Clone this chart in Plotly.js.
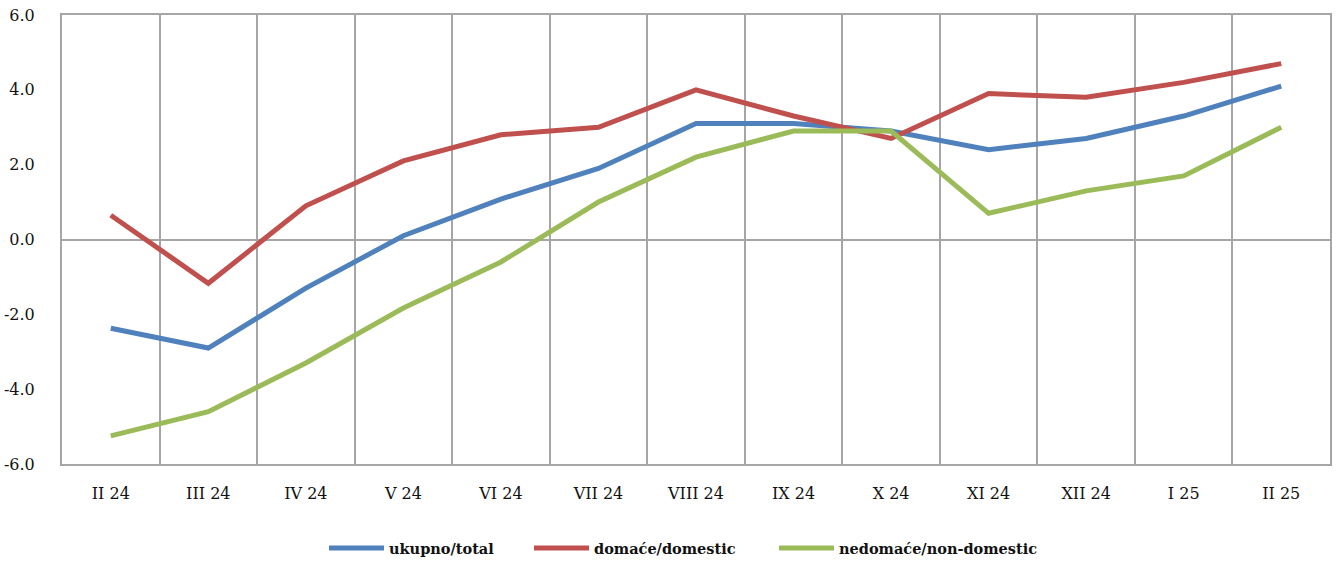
<!DOCTYPE html>
<html>
<head>
<meta charset="utf-8">
<script src="https://cdn.plot.ly/plotly-3.0.1.min.js"></script>
<style>html,body{margin:0;padding:0;background:#fff;}#chart{width:1337px;height:565px;}</style>
</head>
<body>
<div id="chart"></div>
<script>
const categories = ["II 24","III 24","IV 24","V 24","VI 24","VII 24","VIII 24","IX 24","X 24","XI 24","XII 24","I 25","II 25"];
const total = [-2.37,-2.9,-1.3,0.1,1.08,1.9,3.1,3.1,2.9,2.4,2.7,3.3,4.1];
const domestic = [0.65,-1.17,0.9,2.1,2.8,3.0,4.0,3.3,2.7,3.9,3.8,4.2,4.7];
const nonDomestic = [-5.25,-4.6,-3.3,-1.83,-0.6,1.0,2.2,2.9,2.9,0.7,1.3,1.7,3.0];
const names = ["ukupno/total","domaće/domestic","nedomaće/non-domestic"];
const colors = ["#4f81bd","#c0504d","#9bbb59"];
const yTicks = [-6,-4,-2,0,2,4,6];

const FONT = "DejaVu Serif, serif";
const legendIds = ["legend","legend2","legend3"];
const legendLeft = [324, 529, 774];
const series = [total, domestic, nonDomestic];
const data = series.map((s,i)=>({
  x: categories, y: s, type: "scatter", mode: "lines", name: names[i],
  legend: legendIds[i],
  line: {color: colors[i], width: 5}
}));
const layout = {
  width: 1337, height: 565,
  margin: {l: 62, r: 7, t: 15, b: 101},
  paper_bgcolor: "#fff", plot_bgcolor: "#fff",
  font: {family: FONT, size: 16, color: "#111"},
  showlegend: true,
  xaxis: {type: "category", tickson: "boundaries", showgrid: true, gridcolor: "#a6a6a6", gridwidth: 2,
          showline: true, mirror: true, linecolor: "#a6a6a6", linewidth: 2, ticks: "", ticklen: 0,
          ticklabelstandoff: 14, tickfont: {family: FONT, size: 16, color: "#111"},
          zeroline: false, fixedrange: true, range: [-0.5, 12.5]},
  yaxis: {range: [-6, 6], tickvals: yTicks, ticktext: yTicks.map(v=>v.toFixed(1)), showgrid: false,
          zeroline: true, zerolinecolor: "#a6a6a6", zerolinewidth: 2,
          ticklabelstandoff: 22, tickfont: {family: FONT, size: 16, color: "#111"},
          showline: true, mirror: true, linecolor: "#a6a6a6", linewidth: 2, ticks: "", ticklen: 0},
};
legendIds.forEach((id,i)=>{
  layout[id] = {orientation: "h", x: legendLeft[i]/1337, xanchor: "left", xref: "container",
    y: 1 - 548/565, yanchor: "middle", yref: "container",
    font: {family: FONT, size: 14.5, color: "#111", weight: "bold"},
    itemwidth: 55, bgcolor: "rgba(0,0,0,0)"};
});
Plotly.newPlot("chart", data, layout, {displayModeBar: false, staticPlot: true});
</script>
</body>
</html>
